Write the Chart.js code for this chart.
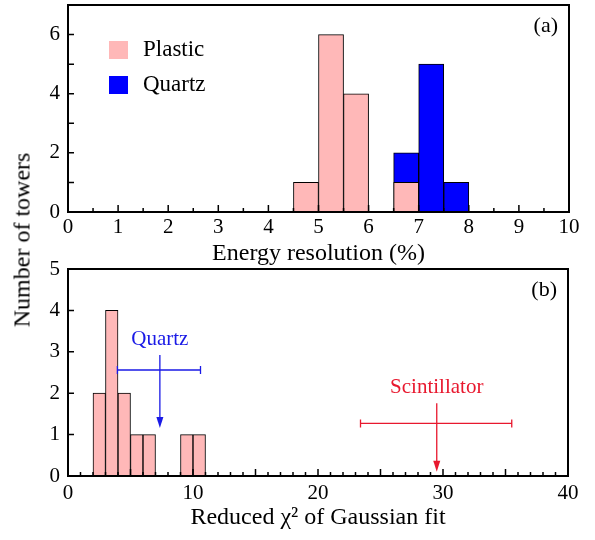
<!DOCTYPE html>
<html>
<head>
<meta charset="utf-8">
<script src="https://cdn.jsdelivr.net/npm/chart.js@4"></script>
<style>
  body { margin: 0; background: #fff; }
  #wrap { position: relative; width: 595px; height: 540px; font-family: "Liberation Serif", serif; }
  canvas { position: absolute; left: 0; }
  #ytitle { position: absolute; left: 22px; top: 240px; transform: translate(-50%, -50%) rotate(-90deg); font-size: 24px; white-space: nowrap; color: #000; }
</style>
</head>
<body>
<div id="wrap">
  <canvas id="chartA" width="595" height="266" style="top:0"></canvas>
  <canvas id="chartB" width="595" height="290" style="top:250px"></canvas>
  <div id="ytitle">Number of towers</div>
</div>
<script>
// (a) energy resolution, bins of 0.5 %
const plasticResBins = [4.75, 5.25, 5.75, 6.75];
const plasticResCounts = [1, 6, 4, 1];
const quartzResBins = [6.75, 7.25, 7.75];
const quartzResCounts = [2, 5, 1];

// (b) reduced chi2 of the gaussian fit, bins of 1
const plasticChiBins = [2.5, 3.5, 4.5, 5.5, 6.5, 9.5, 10.5];
const plasticChiCounts = [2, 4, 2, 1, 1, 1, 1];

// mean, low end, high end of the error bar (chi2)
const quartzChiFit = [7.35, 3.95, 10.6];
const scintChiFit = [29.5, 23.4, 35.5];
// arrow start, error bar level, arrow tip (counts axis)
const quartzMarkY = [2.92, 2.56, 1.16];
const scintMarkY = [1.76, 1.27, 0.1];

const PINK = '#ffb8b8';
const BLUE = '#0000ff';
const SERIF = '"Liberation Serif", "Times New Roman", serif';

Chart.defaults.font.family = SERIF;
Chart.defaults.color = '#000';

const toXY = (xs, ys) => xs.map((x, i) => ({ x: x, y: ys[i] }));

function axisX(min, max, step, pad, titleText, titlePad, height) {
  return {
    type: 'linear', min: min, max: max, offset: false,
    grid: { display: false, drawTicks: false, offset: false },
    border: { display: false },
    ticks: { stepSize: step, padding: pad, maxRotation: 0, font: { size: 21 } },
    title: { display: true, text: titleText, font: { size: 24, lineHeight: 1 }, padding: { top: 0, bottom: titlePad } },
    afterFit: s => { s.height = height; s.paddingLeft = 0; s.paddingRight = 0; }
  };
}

function axisY(max, labelEvery) {
  return {
    type: 'linear', min: 0, max: max,
    grid: { display: false, drawTicks: false },
    border: { display: false },
    ticks: { stepSize: 1, padding: 8, font: { size: 21 },
      callback: v => (v % labelEvery === 0 ? v : '') },
    afterFit: s => { s.width = 68; s.paddingTop = 0; s.paddingBottom = 0; }
  };
}

// box round the plot, inward tick marks and the panel tag
function framePlugin(xMinor, xMajor, tag) {
  return {
    id: 'frame',
    afterDatasetsDraw(chart) {
      const { ctx, chartArea: a, scales: { x, y } } = chart;
      ctx.save();
      ctx.strokeStyle = '#000';
      ctx.lineWidth = 1.5;
      ctx.beginPath();
      for (let i = 0; x.min + i * xMinor <= x.max + 1e-9; i++) {
        const v = x.min + i * xMinor;
        const px = x.getPixelForValue(v);
        const major = Math.abs(v / xMajor - Math.round(v / xMajor)) < 1e-6;
        ctx.moveTo(px, a.bottom);
        ctx.lineTo(px, a.bottom - (major ? 7 : 4));
      }
      for (let v = y.min; v <= y.max; v++) {
        const py = y.getPixelForValue(v);
        ctx.moveTo(a.left, py);
        ctx.lineTo(a.left + 6, py);
      }
      ctx.stroke();
      ctx.lineWidth = 2;
      ctx.strokeRect(a.left, a.top, a.right - a.left, a.bottom - a.top);
      ctx.fillStyle = '#000';
      ctx.font = '22px ' + SERIF;
      ctx.textAlign = 'right';
      ctx.textBaseline = 'alphabetic';
      ctx.fillText(tag, a.right - 11, a.top + 27);
      ctx.restore();
    }
  };
}

const legendPlugin = {
  id: 'boxLegend',
  afterDatasetsDraw(chart) {
    const { ctx, chartArea: a } = chart;
    ctx.save();
    ctx.font = '23px ' + SERIF;
    ctx.textBaseline = 'middle';
    ctx.textAlign = 'left';
    chart.data.datasets.forEach((ds, i) => {
      const x0 = a.left + 41, y0 = a.top + 36 + i * 35;
      ctx.fillStyle = ds.backgroundColor;
      ctx.fillRect(x0, y0, 19, 18);
      ctx.fillStyle = '#000';
      ctx.fillText(ds.label, x0 + 34, y0 + 9);
    });
    ctx.restore();
  }
};

function drawFitMark(chart, fit, ys, text, color) {
  const { ctx, scales: { x, y } } = chart;
  const xm = x.getPixelForValue(fit[0]);
  const xl = x.getPixelForValue(fit[1]);
  const xh = x.getPixelForValue(fit[2]);
  const yTop = y.getPixelForValue(ys[0]);
  const yBar = y.getPixelForValue(ys[1]);
  const yTip = y.getPixelForValue(ys[2]);
  ctx.save();
  ctx.strokeStyle = color;
  ctx.fillStyle = color;
  ctx.lineWidth = 1.3;
  ctx.beginPath();
  ctx.moveTo(xl, yBar); ctx.lineTo(xh, yBar);
  ctx.moveTo(xl, yBar - 4); ctx.lineTo(xl, yBar + 4);
  ctx.moveTo(xh, yBar - 4); ctx.lineTo(xh, yBar + 4);
  ctx.moveTo(xm, yTop); ctx.lineTo(xm, yTip - 9);
  ctx.stroke();
  ctx.beginPath();
  ctx.moveTo(xm, yTip);
  ctx.lineTo(xm - 3.5, yTip - 11);
  ctx.lineTo(xm + 3.5, yTip - 11);
  ctx.closePath();
  ctx.fill();
  ctx.font = '21px ' + SERIF;
  ctx.textAlign = 'center';
  ctx.textBaseline = 'alphabetic';
  ctx.fillText(text, xm, yTop - 10);
  ctx.restore();
}

const fitMarks = {
  id: 'fitMarks',
  afterDatasetsDraw(chart) {
    drawFitMark(chart, quartzChiFit, quartzMarkY, 'Quartz', '#1a1ae6');
    drawFitMark(chart, scintChiFit, scintMarkY, 'Scintillator', '#e8182e');
  }
};

const barDefaults = {
  borderColor: '#000', borderWidth: 1, borderSkipped: false,
  barPercentage: 1, categoryPercentage: 1, grouped: false
};

new Chart(document.getElementById('chartA'), {
  type: 'bar',
  data: {
    datasets: [
      Object.assign({ label: 'Plastic', data: toXY(plasticResBins, plasticResCounts), backgroundColor: PINK }, barDefaults),
      Object.assign({ label: 'Quartz', data: toXY(quartzResBins, quartzResCounts), backgroundColor: BLUE }, barDefaults)
    ]
  },
  options: {
    responsive: false,
    animation: false,
    layout: { padding: { left: 0, right: 26, top: 5, bottom: 0 } },
    scales: {
      x: axisX(0, 10, 1, 3, 'Energy resolution (%)', 0, 54),
      y: axisY(7, 2)
    },
    plugins: { legend: { display: false }, tooltip: { enabled: false } }
  },
  plugins: [framePlugin(0.5, 1, '(a)'), legendPlugin]
});

new Chart(document.getElementById('chartB'), {
  type: 'bar',
  data: {
    datasets: [
      Object.assign({ label: 'Plastic', data: toXY(plasticChiBins, plasticChiCounts), backgroundColor: PINK }, barDefaults)
    ]
  },
  options: {
    responsive: false,
    animation: false,
    layout: { padding: { left: 0, right: 27, top: 19, bottom: 0 } },
    scales: {
      x: axisX(0, 40, 10, 5, 'Reduced \u03c7\u00b2 of Gaussian fit', 10, 64),
      y: axisY(5, 1)
    },
    plugins: { legend: { display: false }, tooltip: { enabled: false } }
  },
  plugins: [framePlugin(1, 5, '(b)'), fitMarks]
});
</script>
</body>
</html>
